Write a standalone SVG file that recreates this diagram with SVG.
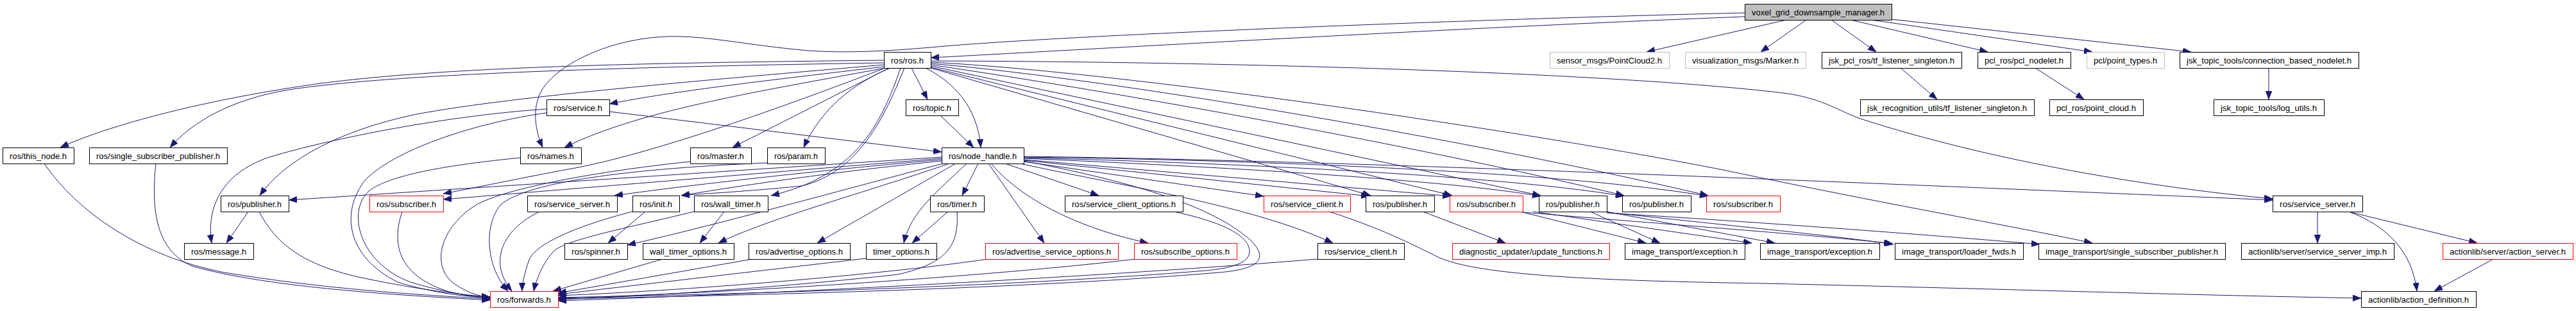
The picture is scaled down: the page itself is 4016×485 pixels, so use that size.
<svg xmlns="http://www.w3.org/2000/svg" width="4016" height="485" viewBox="0 0 4016 485">
<style>
.node rect{fill:#ffffff;stroke:#000000;stroke-width:1}
.node.red rect{stroke:#ff0000}
.node.gray rect{stroke:#bfbfbf}
.node.main rect{fill:#bfbfbf}
.node text{font-family:"Liberation Sans",Arial,Helvetica,sans-serif;font-size:13px;fill:#000000}
#edges path{fill:none;stroke:#191970;stroke-width:1;marker-end:url(#arr)}
</style>
<defs>
<marker id="arr" viewBox="0 0 13 10" refX="13" refY="5" markerWidth="13" markerHeight="10" markerUnits="userSpaceOnUse" orient="auto">
<path d="M0,0 L13,5 L0,10 Z" fill="#191970" stroke="#191970" stroke-width="0.5"/>
</marker>
</defs>
<rect x="0" y="0" width="4016" height="485" fill="#ffffff"/>
<g id="edges">
<path d="M2720,26 C2300,42 1750,74 1451,90"/>
<path d="M2720,20 C2300,30 1650,55 1450,74 C1380,80 1320,83 1260,79 C1160,70 1100,55 1041,57 C950,60 870,100 845,140 C828,170 835,205 846,230"/>
<path d="M2785,31 L2567,81"/>
<path d="M2816,31 L2745,81"/>
<path d="M2855,31 L2925,81"/>
<path d="M2885,31 L3099,81"/>
<path d="M2917,31 L3262,81"/>
<path d="M2948,30 L3416,81"/>
<path d="M2963,106 L3020,155"/>
<path d="M3173,106 L3249,155"/>
<path d="M3537,106 L3537,155"/>
<path d="M1378,94 C1000,98 700,104 500,130 C320,155 170,195 94,230"/>
<path d="M1378,98 C1000,104 620,114 450,140 C360,155 300,190 265,230"/>
<path d="M1378,101 C1100,125 800,150 650,178 C520,205 440,255 405,305"/>
<path d="M1378,104 C1200,125 1050,142 950,162"/>
<path d="M1380,106 C1200,140 1000,170 880,230"/>
<path d="M1386,106 L1142,230"/>
<path d="M1388,106 C1330,130 1280,170 1253,230"/>
<path d="M1421,106 L1446,155"/>
<path d="M1443,106 C1500,135 1525,180 1529,230"/>
<path d="M1466,180 L1518,230"/>
<path d="M950,174 L1468,237"/>
<path d="M1451,95 C1900,96 2500,112 2780,145 C2840,153 2860,170 2900,185 C3100,250 3350,292 3543,310"/>
<path d="M1451,106 L2137,305"/>
<path d="M1451,105 L2264,305"/>
<path d="M1451,103 L2402,305"/>
<path d="M1451,101 C1750,145 2200,225 2532,305"/>
<path d="M1451,99 C1750,125 2300,220 2663,305"/>
<path d="M1451,97 C1800,115 2500,225 2720,272 C2950,320 3150,355 3262,379"/>
<path d="M1380,106 C1200,175 1000,245 880,265 C790,282 730,295 691,302"/>
<path d="M1410,106 C1380,180 1340,268 1250,290 C1150,300 1090,302 1062,305"/>
<path d="M1404,106 C1372,200 1330,275 1202,305"/>
<path d="M1596,252 L1970,306"/>
<path d="M1596,250 L2135,306"/>
<path d="M1596,249 L2262,306"/>
<path d="M1596,247 C1900,260 2250,280 2402,306"/>
<path d="M1596,246 C1950,255 2350,275 2532,306"/>
<path d="M1596,245 C2000,250 2450,270 2663,306"/>
<path d="M1596,244 C2100,250 2900,285 3543,312"/>
<path d="M1590,255 C1750,290 1950,320 2078,379"/>
<path d="M1596,251 C1800,290 1900,330 1950,375 C1980,405 1960,420 1900,425 C1600,450 1200,460 870,466"/>
<path d="M1830,330 C1900,345 1945,365 1948,390 C1950,410 1920,418 1880,422 C1600,445 1200,458 870,464"/>
<path d="M1468,245 L450,312"/>
<path d="M1468,247 L691,311"/>
<path d="M1468,249 C1250,268 1050,292 958,305"/>
<path d="M1468,251 C1300,268 1150,290 1062,305"/>
<path d="M1470,255 C1300,300 1100,355 978,382"/>
<path d="M1480,255 C1350,300 1200,340 1120,379"/>
<path d="M1490,255 L1274,379"/>
<path d="M1507,255 C1460,300 1420,330 1409,379"/>
<path d="M1525,255 L1500,305"/>
<path d="M1541,255 L1628,379"/>
<path d="M1545,255 C1600,320 1700,360 1790,379"/>
<path d="M1567,255 L1713,305"/>
<path d="M1006,330 L948,379"/>
<path d="M1129,330 L1091,379"/>
<path d="M1478,330 L1422,379"/>
<path d="M387,330 L353,379"/>
<path d="M2218,330 L2347,379"/>
<path d="M2370,330 L2566,379"/>
<path d="M2479,330 L2588,379"/>
<path d="M2390,330 L2731,379"/>
<path d="M2504,330 L2767,379"/>
<path d="M2374,331 C2600,350 2850,368 2950,380"/>
<path d="M2505,331 C2700,352 2880,370 2952,381"/>
<path d="M2505,332 C2800,350 3050,370 3180,381"/>
<path d="M2072,330 C2150,355 2200,380 2240,400 C2300,430 2500,438 2750,442 C3100,450 3400,460 3681,465"/>
<path d="M3613,330 L3613,379"/>
<path d="M3661,330 L3862,379"/>
<path d="M3662,330 C3720,352 3760,390 3768,454"/>
<path d="M3887,404 L3795,454"/>
<path d="M69,255 C120,330 220,400 350,425 C500,450 650,460 764,466"/>
<path d="M243,255 C236,320 240,390 300,415 C420,450 650,462 764,468"/>
<path d="M404,330 C430,380 470,410 550,430 C640,450 720,460 764,463"/>
<path d="M852,170 C700,180 520,215 420,245 C340,272 322,330 330,379"/>
<path d="M852,176 C750,190 620,230 570,280 C530,330 540,400 620,440 C680,458 730,463 764,464"/>
<path d="M811,246 C720,255 610,270 575,298 C540,330 560,410 640,440 C700,458 740,462 764,465"/>
<path d="M627,330 C610,380 620,430 700,455 C730,462 750,464 764,465"/>
<path d="M1076,252 C950,265 800,290 745,318 C690,350 670,410 705,440 C725,455 745,462 764,464"/>
<path d="M1196,254 C1000,262 820,282 780,320 C752,355 760,420 792,454"/>
<path d="M841,330 C780,360 762,410 798,454"/>
<path d="M986,330 C900,352 835,380 825,405 C818,425 814,442 814,454"/>
<path d="M1082,330 C980,355 890,372 865,390 C845,410 835,440 832,454"/>
<path d="M1033,404 L862,454"/>
<path d="M1173,404 L870,457"/>
<path d="M1350,403 L870,459"/>
<path d="M1492,330 C1495,380 1480,410 1400,428 C1200,450 1000,462 870,467"/>
<path d="M1540,404 C1400,425 1100,452 870,461"/>
<path d="M1770,404 C1600,425 1200,455 870,465"/>
<path d="M2054,404 C1800,425 1300,455 870,469"/>
</g>
<g id="n_V" class="node main"><rect x="2720.5" y="6.5" width="229" height="25"/><text x="2731" y="23.5" textLength="207" lengthAdjust="spacingAndGlyphs">voxel_grid_downsample_manager.h</text></g>
<g id="n_R" class="node"><rect x="1378.5" y="81.5" width="73" height="25"/><text x="1389" y="98.5" textLength="51" lengthAdjust="spacingAndGlyphs">ros/ros.h</text></g>
<g id="n_PC2" class="node gray"><rect x="2416.5" y="81.5" width="186" height="25"/><text x="2427" y="98.5" textLength="164" lengthAdjust="spacingAndGlyphs">sensor_msgs/PointCloud2.h</text></g>
<g id="n_MK" class="node gray"><rect x="2627.5" y="81.5" width="188" height="25"/><text x="2638" y="98.5" textLength="166" lengthAdjust="spacingAndGlyphs">visualization_msgs/Marker.h</text></g>
<g id="n_JTF" class="node"><rect x="2840.5" y="81.5" width="218" height="25"/><text x="2851" y="98.5" textLength="196" lengthAdjust="spacingAndGlyphs">jsk_pcl_ros/tf_listener_singleton.h</text></g>
<g id="n_PN" class="node"><rect x="3083.5" y="81.5" width="145" height="25"/><text x="3094" y="98.5" textLength="123" lengthAdjust="spacingAndGlyphs">pcl_ros/pcl_nodelet.h</text></g>
<g id="n_PT" class="node gray"><rect x="3253.5" y="81.5" width="121" height="25"/><text x="3264" y="98.5" textLength="99" lengthAdjust="spacingAndGlyphs">pcl/point_types.h</text></g>
<g id="n_CBN" class="node"><rect x="3398.5" y="81.5" width="279" height="25"/><text x="3409" y="98.5" textLength="257" lengthAdjust="spacingAndGlyphs">jsk_topic_tools/connection_based_nodelet.h</text></g>
<g id="n_SV" class="node"><rect x="852.5" y="155.5" width="98" height="25"/><text x="863" y="172.5" textLength="76" lengthAdjust="spacingAndGlyphs">ros/service.h</text></g>
<g id="n_TP" class="node"><rect x="1412.5" y="155.5" width="82" height="25"/><text x="1423" y="172.5" textLength="60" lengthAdjust="spacingAndGlyphs">ros/topic.h</text></g>
<g id="n_JRU" class="node"><rect x="2900.5" y="155.5" width="271" height="25"/><text x="2911" y="172.5" textLength="249" lengthAdjust="spacingAndGlyphs">jsk_recognition_utils/tf_listener_singleton.h</text></g>
<g id="n_PCL" class="node"><rect x="3195.5" y="155.5" width="146" height="25"/><text x="3206" y="172.5" textLength="124" lengthAdjust="spacingAndGlyphs">pcl_ros/point_cloud.h</text></g>
<g id="n_LU" class="node"><rect x="3451.5" y="155.5" width="172" height="25"/><text x="3462" y="172.5" textLength="150" lengthAdjust="spacingAndGlyphs">jsk_topic_tools/log_utils.h</text></g>
<g id="n_TN" class="node"><rect x="4.5" y="230.5" width="111" height="25"/><text x="15" y="247.5" textLength="89" lengthAdjust="spacingAndGlyphs">ros/this_node.h</text></g>
<g id="n_SSP" class="node"><rect x="139.5" y="230.5" width="215" height="25"/><text x="150" y="247.5" textLength="193" lengthAdjust="spacingAndGlyphs">ros/single_subscriber_publisher.h</text></g>
<g id="n_NM" class="node"><rect x="811.5" y="230.5" width="95" height="25"/><text x="822" y="247.5" textLength="73" lengthAdjust="spacingAndGlyphs">ros/names.h</text></g>
<g id="n_MS" class="node"><rect x="1076.5" y="230.5" width="95" height="25"/><text x="1087" y="247.5" textLength="73" lengthAdjust="spacingAndGlyphs">ros/master.h</text></g>
<g id="n_PR" class="node"><rect x="1196.5" y="230.5" width="90" height="25"/><text x="1207" y="247.5" textLength="68" lengthAdjust="spacingAndGlyphs">ros/param.h</text></g>
<g id="n_NH" class="node"><rect x="1468.5" y="230.5" width="128" height="25"/><text x="1479" y="247.5" textLength="106" lengthAdjust="spacingAndGlyphs">ros/node_handle.h</text></g>
<g id="n_PA" class="node"><rect x="344.5" y="305.5" width="106" height="25"/><text x="355" y="322.5" textLength="84" lengthAdjust="spacingAndGlyphs">ros/publisher.h</text></g>
<g id="n_SBA" class="node red"><rect x="576.5" y="305.5" width="115" height="25"/><text x="587" y="322.5" textLength="93" lengthAdjust="spacingAndGlyphs">ros/subscriber.h</text></g>
<g id="n_SSA" class="node"><rect x="822.5" y="305.5" width="140" height="25"/><text x="833" y="322.5" textLength="118" lengthAdjust="spacingAndGlyphs">ros/service_server.h</text></g>
<g id="n_IN" class="node"><rect x="986.5" y="305.5" width="73" height="25"/><text x="997" y="322.5" textLength="51" lengthAdjust="spacingAndGlyphs">ros/init.h</text></g>
<g id="n_WT" class="node"><rect x="1082.5" y="305.5" width="115" height="25"/><text x="1093" y="322.5" textLength="93" lengthAdjust="spacingAndGlyphs">ros/wall_timer.h</text></g>
<g id="n_TM" class="node"><rect x="1450.5" y="305.5" width="84" height="25"/><text x="1461" y="322.5" textLength="62" lengthAdjust="spacingAndGlyphs">ros/timer.h</text></g>
<g id="n_SCO" class="node"><rect x="1660.5" y="305.5" width="184" height="25"/><text x="1671" y="322.5" textLength="162" lengthAdjust="spacingAndGlyphs">ros/service_client_options.h</text></g>
<g id="n_SCR" class="node red"><rect x="1970.5" y="305.5" width="135" height="25"/><text x="1981" y="322.5" textLength="113" lengthAdjust="spacingAndGlyphs">ros/service_client.h</text></g>
<g id="n_PB" class="node"><rect x="2129.5" y="305.5" width="107" height="25"/><text x="2140" y="322.5" textLength="85" lengthAdjust="spacingAndGlyphs">ros/publisher.h</text></g>
<g id="n_SBC" class="node red"><rect x="2260.5" y="305.5" width="114" height="25"/><text x="2271" y="322.5" textLength="92" lengthAdjust="spacingAndGlyphs">ros/subscriber.h</text></g>
<g id="n_PC" class="node"><rect x="2399.5" y="305.5" width="106" height="25"/><text x="2410" y="322.5" textLength="84" lengthAdjust="spacingAndGlyphs">ros/publisher.h</text></g>
<g id="n_PD" class="node"><rect x="2529.5" y="305.5" width="107" height="25"/><text x="2540" y="322.5" textLength="85" lengthAdjust="spacingAndGlyphs">ros/publisher.h</text></g>
<g id="n_SBD" class="node red"><rect x="2660.5" y="305.5" width="115" height="25"/><text x="2671" y="322.5" textLength="93" lengthAdjust="spacingAndGlyphs">ros/subscriber.h</text></g>
<g id="n_SSB" class="node"><rect x="3543.5" y="305.5" width="140" height="25"/><text x="3554" y="322.5" textLength="118" lengthAdjust="spacingAndGlyphs">ros/service_server.h</text></g>
<g id="n_MSG" class="node"><rect x="287.5" y="379.5" width="108" height="25"/><text x="298" y="396.5" textLength="86" lengthAdjust="spacingAndGlyphs">ros/message.h</text></g>
<g id="n_SPN" class="node"><rect x="880.5" y="379.5" width="98" height="25"/><text x="891" y="396.5" textLength="76" lengthAdjust="spacingAndGlyphs">ros/spinner.h</text></g>
<g id="n_WTO" class="node"><rect x="1002.5" y="379.5" width="142" height="25"/><text x="1013" y="396.5" textLength="120" lengthAdjust="spacingAndGlyphs">wall_timer_options.h</text></g>
<g id="n_AO" class="node"><rect x="1167.5" y="379.5" width="158" height="25"/><text x="1178" y="396.5" textLength="136" lengthAdjust="spacingAndGlyphs">ros/advertise_options.h</text></g>
<g id="n_TO" class="node"><rect x="1350.5" y="379.5" width="110" height="25"/><text x="1361" y="396.5" textLength="88" lengthAdjust="spacingAndGlyphs">timer_options.h</text></g>
<g id="n_ASO" class="node red"><rect x="1536.5" y="379.5" width="207" height="25"/><text x="1547" y="396.5" textLength="185" lengthAdjust="spacingAndGlyphs">ros/advertise_service_options.h</text></g>
<g id="n_SO" class="node red"><rect x="1768.5" y="379.5" width="160" height="25"/><text x="1779" y="396.5" textLength="138" lengthAdjust="spacingAndGlyphs">ros/subscribe_options.h</text></g>
<g id="n_SCB" class="node"><rect x="2054.5" y="379.5" width="135" height="25"/><text x="2065" y="396.5" textLength="113" lengthAdjust="spacingAndGlyphs">ros/service_client.h</text></g>
<g id="n_UF" class="node red"><rect x="2264.5" y="379.5" width="245" height="25"/><text x="2275" y="396.5" textLength="223" lengthAdjust="spacingAndGlyphs">diagnostic_updater/update_functions.h</text></g>
<g id="n_EXA" class="node"><rect x="2533.5" y="379.5" width="187" height="25"/><text x="2544" y="396.5" textLength="165" lengthAdjust="spacingAndGlyphs">image_transport/exception.h</text></g>
<g id="n_EXB" class="node"><rect x="2744.5" y="379.5" width="186" height="25"/><text x="2755" y="396.5" textLength="164" lengthAdjust="spacingAndGlyphs">image_transport/exception.h</text></g>
<g id="n_LF" class="node"><rect x="2954.5" y="379.5" width="200" height="25"/><text x="2965" y="396.5" textLength="178" lengthAdjust="spacingAndGlyphs">image_transport/loader_fwds.h</text></g>
<g id="n_ITS" class="node"><rect x="3178.5" y="379.5" width="291" height="25"/><text x="3189" y="396.5" textLength="269" lengthAdjust="spacingAndGlyphs">image_transport/single_subscriber_publisher.h</text></g>
<g id="n_SSI" class="node"><rect x="3494.5" y="379.5" width="238" height="25"/><text x="3505" y="396.5" textLength="216" lengthAdjust="spacingAndGlyphs">actionlib/server/service_server_imp.h</text></g>
<g id="n_AS" class="node red"><rect x="3808.5" y="379.5" width="203" height="25"/><text x="3819" y="396.5" textLength="181" lengthAdjust="spacingAndGlyphs">actionlib/server/action_server.h</text></g>
<g id="n_FW" class="node red"><rect x="764.5" y="454.5" width="106" height="25"/><text x="775" y="471.5" textLength="84" lengthAdjust="spacingAndGlyphs">ros/forwards.h</text></g>
<g id="n_AD" class="node"><rect x="3681.5" y="454.5" width="179" height="25"/><text x="3692" y="471.5" textLength="157" lengthAdjust="spacingAndGlyphs">actionlib/action_definition.h</text></g>
</svg>
